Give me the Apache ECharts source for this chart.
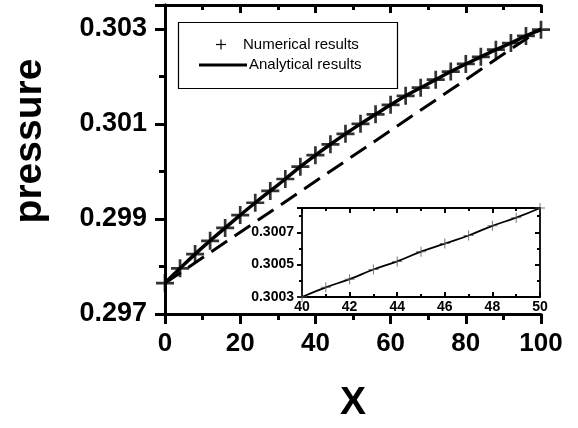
<!DOCTYPE html>
<html>
<head>
<meta charset="utf-8">
<script src="https://cdn.jsdelivr.net/npm/echarts@6/dist/echarts.min.js"></script>
<style>
html, body { margin: 0; padding: 0; background: #fff; }
#chart { width: 578px; height: 428px; }
</style>
</head>
<body>
<div id="chart"></div>
<script>
// main plot: numerical points (every 4 units) and analytical curve
var xNum = [0, 4, 8, 12, 16, 20, 24, 28, 32, 36, 40, 44, 48, 52, 56, 60, 64, 68, 72, 76, 80, 84, 88, 92, 96, 100];
var pNum = [0.29765, 0.29796, 0.29826, 0.29854, 0.29881, 0.29908, 0.29934, 0.29959, 0.29984, 0.30010,
            0.30034, 0.30057, 0.30079, 0.30100, 0.30120, 0.30140, 0.30159, 0.30176, 0.30193, 0.30210,
            0.30226, 0.30241, 0.30256, 0.30270, 0.30285, 0.30298];
// dashed reference line
var xDash = [0, 100];
var pDash = [0.29765, 0.30300];
// inset (zoom on 40..50)
var xInset = [40, 41, 42, 43, 44, 45, 46, 47, 48, 49, 50];
var pInset = [0.30030, 0.30036, 0.30041, 0.30047, 0.30052, 0.30058, 0.30063, 0.30068, 0.30074, 0.30079, 0.30085];

var legendNames = ['Numerical results', 'Analytical results'];

function zip(a, b) {
  return a.map(function (v, i) { return [v, b[i]]; });
}

var FONT = 'Liberation Sans, Arial, Helvetica, sans-serif';
var plus = 'path://M-1.5,-10L1.5,-10L1.5,-1.5L10,-1.5L10,1.5L1.5,1.5L1.5,10L-1.5,10L-1.5,1.5L-10,1.5L-10,-1.5L-1.5,-1.5Z';
var plusThin = 'path://M-1,-10L1,-10L1,-1L10,-1L10,1L1,1L1,10L-1,10L-1,1L-10,1L-10,-1L-1,-1Z';

var myChart = echarts.init(document.getElementById('chart'), null, { renderer: 'canvas' });

var mainLine = { lineStyle: { color: '#000', width: 3 } };
var insetLine = { lineStyle: { color: '#000', width: 1.8 } };

var option = {
  backgroundColor: '#fff',
  animation: false,
  grid: [
    { left: 165, top: 5, width: 376, height: 314.5 },
    { left: 302, top: 208, width: 238, height: 89, show: true, backgroundColor: '#fff', borderWidth: 0, z: 5 }
  ],
  xAxis: [
    {
      type: 'value', gridIndex: 0, min: 0, max: 100, interval: 20,
      name: 'X', nameLocation: 'middle', nameGap: 70,
      nameTextStyle: { fontFamily: FONT, fontWeight: 'bold', fontSize: 39, color: '#000' },
      axisLine: mainLine,
      axisTick: { inside: false, length: 10, lineStyle: { width: 3, color: '#000' } },
      minorTick: { show: true, splitNumber: 2, length: 6, lineStyle: { width: 3, color: '#000' } },
      axisLabel: { margin: 17, fontFamily: FONT, fontWeight: 'bold', fontSize: 26, color: '#000' },
      splitLine: { show: false }
    },
    {
      type: 'value', gridIndex: 0, min: 0, max: 100, interval: 20, position: 'top',
      axisLine: mainLine,
      axisTick: { inside: true, length: 8, lineStyle: { width: 3, color: '#000' } },
      minorTick: { show: true, splitNumber: 2, length: 5, lineStyle: { width: 3, color: '#000' } },
      axisLabel: { show: false }, splitLine: { show: false }
    },
    {
      type: 'value', gridIndex: 1, min: 40, max: 50, interval: 2, z: 6,
      axisLine: insetLine,
      axisTick: { inside: true, length: 5, lineStyle: { width: 2, color: '#000' } },
      minorTick: { show: true, splitNumber: 2, length: 3, lineStyle: { width: 2, color: '#000' } },
      axisLabel: { margin: 3, fontFamily: FONT, fontWeight: 'bold', fontSize: 14, color: '#000' },
      splitLine: { show: false }
    },
    {
      type: 'value', gridIndex: 1, min: 40, max: 50, interval: 2, position: 'top', z: 6,
      axisLine: insetLine,
      axisTick: { inside: true, length: 5, lineStyle: { width: 2, color: '#000' } },
      minorTick: { show: true, splitNumber: 2, length: 3, lineStyle: { width: 2, color: '#000' } },
      axisLabel: { show: false }, splitLine: { show: false }
    }
  ],
  yAxis: [
    {
      type: 'value', gridIndex: 0, min: 0.297, max: 0.3035, interval: 0.002,
      axisLine: mainLine,
      axisTick: { inside: false, length: 10, lineStyle: { width: 3, color: '#000' } },
      minorTick: { show: true, splitNumber: 2, length: 6, lineStyle: { width: 3, color: '#000' } },
      axisLabel: {
        margin: 18, showMaxLabel: false, fontFamily: FONT, fontWeight: 'bold', fontSize: 27, color: '#000',
        formatter: function (v) { return v.toFixed(3); }
      },
      splitLine: { show: false }
    },
    {
      type: 'value', gridIndex: 0, min: 0.297, max: 0.3035, interval: 0.002, position: 'right',
      axisLine: mainLine,
      axisTick: { inside: true, length: 8, lineStyle: { width: 3, color: '#000' } },
      minorTick: { show: true, splitNumber: 2, length: 5, lineStyle: { width: 3, color: '#000' } },
      axisLabel: { show: false }, splitLine: { show: false }
    },
    {
      type: 'value', gridIndex: 1, min: 0.3003, max: 0.30085, interval: 0.0002, z: 6,
      axisLine: insetLine,
      axisTick: { inside: false, length: 5, lineStyle: { width: 2, color: '#000' } },
      minorTick: { show: true, splitNumber: 2, length: 3, lineStyle: { width: 2, color: '#000' } },
      axisLabel: {
        margin: 8, showMaxLabel: false, fontFamily: FONT, fontWeight: 'bold', fontSize: 14, color: '#000',
        formatter: function (v) { return v.toFixed(4); }
      },
      splitLine: { show: false }
    },
    {
      type: 'value', gridIndex: 1, min: 0.3003, max: 0.30085, interval: 0.0002, position: 'right', z: 6,
      axisLine: insetLine,
      axisTick: { inside: true, length: 5, lineStyle: { width: 2, color: '#000' } },
      minorTick: { show: true, splitNumber: 2, length: 3, lineStyle: { width: 2, color: '#000' } },
      axisLabel: { show: false }, splitLine: { show: false }
    }
  ],
  series: [
    {
      name: 'dashed', type: 'line', xAxisIndex: 0, yAxisIndex: 0,
      data: zip(xDash, pDash), symbol: 'none',
      lineStyle: { color: '#000', width: 3, type: [19, 9] }
    },
    {
      name: legendNames[1], type: 'line', xAxisIndex: 0, yAxisIndex: 0,
      data: zip(xNum, pNum), smooth: true, symbol: 'none',
      lineStyle: { color: '#000', width: 3.5 }
    },
    {
      name: legendNames[0], type: 'scatter', xAxisIndex: 0, yAxisIndex: 0,
      data: zip(xNum, pNum), symbol: plus, symbolSize: 18,
      itemStyle: { color: '#000' }
    },
    {
      name: 'inset analytical', type: 'line', xAxisIndex: 2, yAxisIndex: 2, z: 7,
      data: zip(xInset, pInset), smooth: true, symbol: 'none',
      lineStyle: { color: '#000', width: 1.8 }
    },
    {
      name: 'inset numerical', type: 'scatter', xAxisIndex: 2, yAxisIndex: 2, z: 8,
      data: zip(xInset, pInset), symbol: plusThin, symbolSize: 10,
      itemStyle: { color: '#555' }
    }
  ],
  graphic: [
    {
      type: 'text', x: 30, y: 141, rotation: Math.PI / 2,
      style: { text: 'pressure', font: 'bold 39px ' + FONT, fill: '#000', align: 'center', verticalAlign: 'middle' }
    },
    {
      type: 'rect', shape: { x: 178.5, y: 22.5, width: 219, height: 66 },
      style: { fill: '#fff', stroke: '#000', lineWidth: 1.2 }, z: 10
    },
    {
      type: 'line', z: 11, shape: { x1: 216, y1: 44.5, x2: 226, y2: 44.5 },
      style: { stroke: '#000', lineWidth: 1.2 }
    },
    {
      type: 'line', z: 11, shape: { x1: 221, y1: 39.5, x2: 221, y2: 49.5 },
      style: { stroke: '#000', lineWidth: 1.2 }
    },
    {
      type: 'line', z: 11, shape: { x1: 199, y1: 65, x2: 247, y2: 65 },
      style: { stroke: '#000', lineWidth: 3 }
    },
    {
      type: 'text', z: 11, x: 243, y: 44.5,
      style: { text: legendNames[0], font: '15px ' + FONT, fill: '#000', verticalAlign: 'middle' }
    },
    {
      type: 'text', z: 11, x: 249, y: 65,
      style: { text: legendNames[1], font: '15px ' + FONT, fill: '#000', verticalAlign: 'middle' }
    }
  ]
};

myChart.setOption(option);
window.onresize = function () { myChart.resize(); };
</script>
</body>
</html>
